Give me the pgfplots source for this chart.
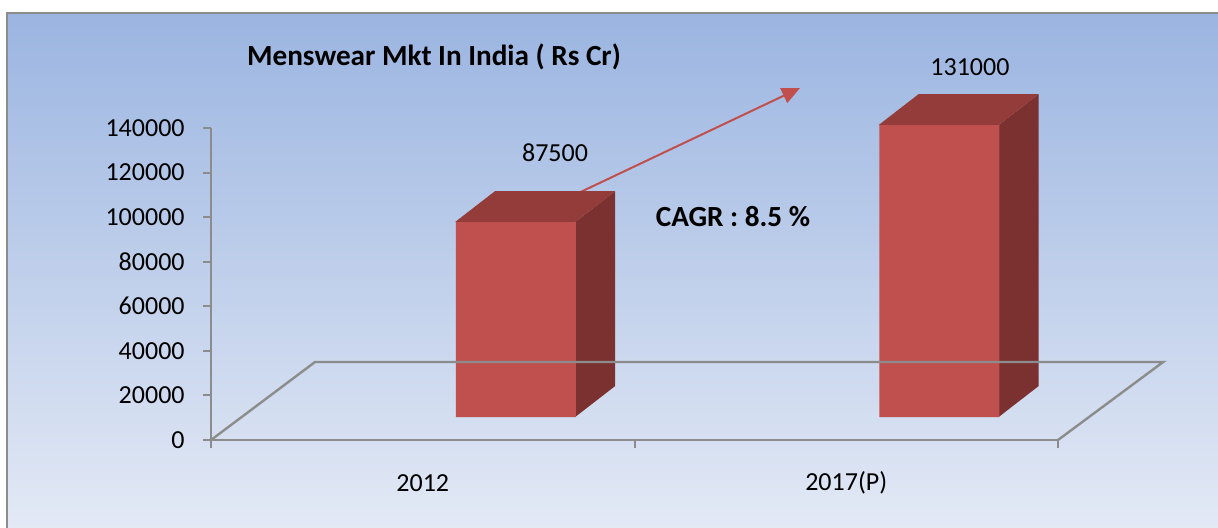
\documentclass[border=0pt]{standalone}
\usepackage{fontspec}
\setmainfont{Carlito}
\usepackage{pgfplots}
\usepackage{pgfplotstable}
\pgfplotsset{compat=1.18}
\usetikzlibrary{arrows.meta}
\definecolor{barfront}{HTML}{C0504D}
\definecolor{bartop}{HTML}{943C39}
\definecolor{barside}{HTML}{7A3130}
\definecolor{gridgray}{HTML}{8C8C8C}
\definecolor{bgtop}{HTML}{9BB5E1}
\definecolor{bgbot}{HTML}{E3E9F5}
\newcommand{\lbl}{\fontsize{13}{15}\selectfont}
\newcommand{\bld}{\fontsize{14.6}{17}\selectfont\bfseries}
\pgfplotstableread{
x v
0.5 87500
1.5 131000
}\datatable
\pgfplotstableread{
x v
0.5 10300
1.5 10300
}\basetable
\begin{document}
\begin{tikzpicture}[x=1pt,y=1pt]
\useasboundingbox (-105.5,-43.5) rectangle (503.5,220);
\fill[white] (-105.5,-43.5) rectangle (503.5,220);
\shade[top color=bgtop, bottom color=bgbot] (-102,-43.5) rectangle (504,213.5);
\draw[gridgray, line width=1pt] (-102,-44) -- (-102,213.5) -- (504,213.5);
\begin{axis}[
  at={(0,0)}, anchor=south west, scale only axis,
  width=423.5pt, height=156pt,
  xmin=0, xmax=2, ymin=0, ymax=140000,
  clip=false,
  axis lines*=left,
  axis line style={gridgray, line width=1.2pt},
  tick style={gridgray, line width=1pt},
  tick align=outside,
  major tick length=4pt,
  xtick={0,1,2}, xticklabels={,,},
  extra x ticks={0.5,1.5},
  extra x tick labels={2012,2017(P)},
  extra x tick style={major tick length=0pt, xticklabel style={anchor=center, yshift=-21.5pt}},
  ytick={0,20000,40000,60000,80000,100000,120000,140000},
  yticklabels={0,20000,40000,60000,80000,100000,120000,140000},
  scaled y ticks=false,
  yticklabel style={anchor=east, inner sep=0pt, xshift=-9pt},
  tick label style={font=\lbl},
  ybar stacked, bar width=60pt, bar shift=46.5pt,
]
% floor
\draw[gridgray, line width=1.2pt] (axis cs:0,0) -- (axis cs:0.2456,35000) -- (axis cs:2.2482,35000) -- (axis cs:2,0);
% front faces (base offset + values)
\addplot[draw=none, fill=none] table[x=x,y=v] {\basetable};
\addplot[draw=none, fill=barfront] table[x=x,y=v] {\datatable};
% 3D faces
\fill[bartop] (axis cs:0.5763,97800) -- (axis cs:0.8597,97800) -- (axis cs:0.9542,111700) -- (axis cs:0.6708,111700) -- cycle;
\fill[barside] (axis cs:0.8597,10300) -- (axis cs:0.8597,97800) -- (axis cs:0.9542,111700) -- (axis cs:0.9542,24200) -- cycle;
\fill[bartop] (axis cs:1.5763,141300) -- (axis cs:1.8597,141300) -- (axis cs:1.9542,155200) -- (axis cs:1.6708,155200) -- cycle;
\fill[barside] (axis cs:1.8597,10300) -- (axis cs:1.8597,141300) -- (axis cs:1.9542,155200) -- (axis cs:1.9542,24200) -- cycle;
% arrow
\draw[barfront, line width=1pt, -{Triangle[length=9pt,width=8pt]}] (axis cs:0.8477,109040) -- (axis cs:1.3908,157950);
% value labels
\node[font=\lbl] at (axis cs:0.8123,128780) {87500};
\node[font=\lbl] at (axis cs:1.792,167370) {131000};
\end{axis}
\node[font=\bld] at (111.5,191.5) {Menswear Mkt In India ( Rs Cr)};
\node[font=\bld] at (261,111.5) {CAGR : 8.5 \%};
\end{tikzpicture}
\end{document}
